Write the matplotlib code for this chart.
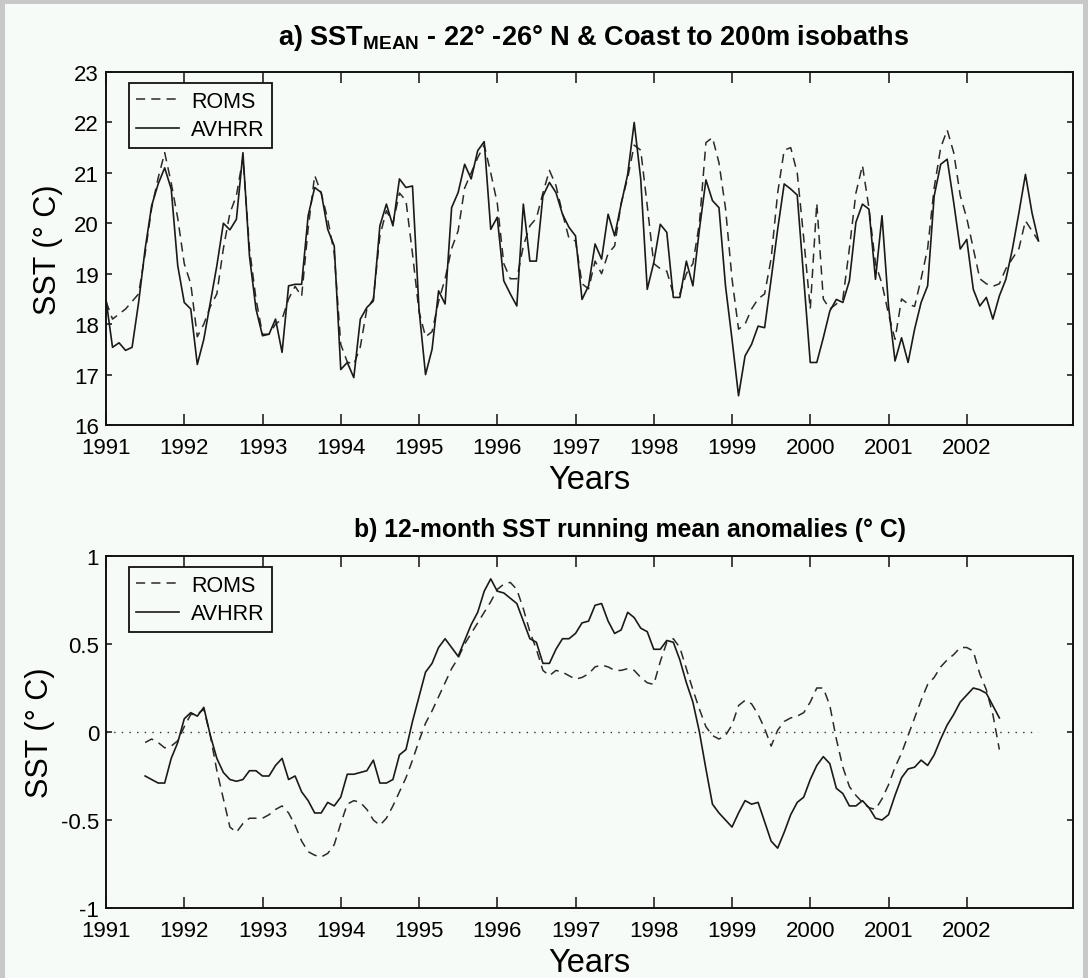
import numpy as np
import matplotlib
matplotlib.use('Agg')
import matplotlib.pyplot as plt
from matplotlib import font_manager as fm
from matplotlib.patches import Rectangle

# ---------------- data ----------------
t_start = 1991.0
year_ticks = list(range(1991, 2003))

sst_avhrr = [18.49, 17.54, 17.63, 17.48, 17.54, 18.43, 19.49, 20.35, 20.78, 21.10, 20.68, 19.16,
             18.43, 18.30, 17.20, 17.70, 18.43, 19.16, 20.00, 19.87, 20.08, 21.40, 19.35, 18.30,
             17.77, 17.80, 18.10, 17.44, 18.76, 18.79, 18.79, 20.15, 20.71, 20.61, 19.88, 19.55,
             17.10, 17.24, 16.94, 18.10, 18.33, 18.46, 19.95, 20.38, 19.95, 20.88, 20.71, 20.74,
             18.30, 17.00, 17.50, 18.66, 18.40, 20.31, 20.61, 21.17, 20.88, 21.44, 21.62, 19.88,
             20.12, 18.86, 18.60, 18.36, 20.38, 19.25, 19.25, 20.54, 20.81, 20.61, 20.18, 19.92,
             19.75, 18.49, 18.76, 19.59, 19.29, 20.18, 19.75, 20.38, 20.97, 22.00, 20.88, 18.69,
             19.22, 19.98, 19.82, 18.53, 18.53, 19.25, 18.76, 19.88, 20.86, 20.45, 20.31, 18.76,
             17.70, 16.58, 17.37, 17.60, 17.96, 17.93, 18.89, 19.88, 20.78, 20.68, 20.56, 18.90,
             17.24, 17.24, 17.73, 18.26, 18.49, 18.43, 18.86, 20.02, 20.38, 20.28, 18.89, 20.15,
             18.36, 17.27, 17.73, 17.24, 17.90, 18.43, 18.76, 20.54, 21.17, 21.27, 20.41, 19.49,
             19.68, 18.69, 18.36, 18.53, 18.10, 18.56, 18.89, 19.49, 20.21, 20.97, 20.21, 19.65]

sst_roms = [18.45, 18.10, 18.20, 18.30, 18.45, 18.60, 19.40, 20.30, 20.90, 21.40, 20.80, 20.10,
            19.20, 18.80, 17.75, 18.00, 18.35, 18.60, 19.50, 20.20, 20.55, 21.30, 19.50, 18.50,
            17.80, 17.80, 18.00, 18.10, 18.50, 18.75, 18.55, 19.90, 20.95, 20.60, 20.08, 19.40,
            17.60, 17.25, 17.20, 17.55, 18.30, 18.50, 19.75, 20.25, 20.00, 20.60, 20.45, 19.40,
            18.25, 17.75, 17.85, 18.45, 18.90, 19.50, 19.85, 20.70, 21.00, 21.30, 21.55, 21.00,
            20.40, 19.20, 18.90, 18.90, 19.55, 19.95, 20.10, 20.60, 21.05, 20.75, 20.20, 19.70,
            19.65, 18.80, 18.70, 19.25, 19.00, 19.40, 19.55, 20.40, 20.90, 21.55, 21.45, 20.35,
            19.20, 19.10, 19.05, 18.60, 18.60, 19.00, 19.20, 20.00, 21.60, 21.70, 21.20, 20.30,
            18.90, 17.90, 18.00, 18.30, 18.50, 18.60, 19.30, 20.60, 21.45, 21.50, 21.00, 19.70,
            18.30, 20.40, 18.50, 18.30, 18.40, 18.50, 19.50, 20.60, 21.15, 20.30, 19.20, 18.80,
            18.20, 17.70, 18.50, 18.40, 18.35, 18.90, 19.50, 20.70, 21.50, 21.85, 21.40, 20.55,
            20.10, 19.50, 18.90, 18.80, 18.75, 18.80, 19.10, 19.30, 19.50, 20.05, 19.85, 19.65]

anom_first_month = 6   # running mean starts at month index 6 (July 1991)
anom_avhrr = [-0.25, -0.27, -0.29, -0.29, -0.15, -0.06, 0.075, 0.11, 0.09, 0.14, -0.02, -0.15,
              -0.23, -0.27, -0.28, -0.27, -0.22, -0.22, -0.25, -0.25, -0.19, -0.15, -0.27, -0.25,
              -0.34, -0.39, -0.46, -0.46, -0.40, -0.42, -0.37, -0.24, -0.24, -0.23, -0.22, -0.16,
              -0.29, -0.29, -0.27, -0.13, -0.10, 0.06, 0.20, 0.34, 0.39, 0.48, 0.53, 0.48,
              0.43, 0.52, 0.61, 0.68, 0.80, 0.87, 0.80, 0.79, 0.76, 0.73, 0.63, 0.53,
              0.51, 0.39, 0.39, 0.47, 0.53, 0.53, 0.56, 0.62, 0.63, 0.72, 0.73, 0.63,
              0.56, 0.58, 0.68, 0.65, 0.59, 0.57, 0.47, 0.47, 0.52, 0.51, 0.41, 0.28,
              0.17, 0.00, -0.21, -0.41, -0.46, -0.50, -0.54, -0.46, -0.39, -0.41, -0.40, -0.51,
              -0.62, -0.66, -0.57, -0.47, -0.40, -0.37, -0.27, -0.19, -0.14, -0.18, -0.32, -0.35,
              -0.42, -0.42, -0.39, -0.43, -0.49, -0.50, -0.47, -0.36, -0.26, -0.21, -0.20, -0.16,
              -0.19, -0.13, -0.04, 0.04, 0.10, 0.17, 0.21, 0.25, 0.24, 0.22, 0.15, 0.08]

anom_roms = [-0.06, -0.04, -0.06, -0.09, -0.08, -0.05, 0.03, 0.10, 0.10, 0.13, -0.02, -0.22,
             -0.38, -0.54, -0.57, -0.52, -0.49, -0.49, -0.49, -0.47, -0.44, -0.42, -0.46, -0.53,
             -0.62, -0.68, -0.70, -0.71, -0.69, -0.64, -0.52, -0.41, -0.39, -0.40, -0.44, -0.50,
             -0.53, -0.49, -0.42, -0.34, -0.26, -0.16, -0.05, 0.05, 0.12, 0.20, 0.28, 0.36,
             0.42, 0.50, 0.56, 0.62, 0.68, 0.74, 0.81, 0.84, 0.85, 0.81, 0.70, 0.57,
             0.47, 0.35, 0.32, 0.35, 0.34, 0.32, 0.30, 0.31, 0.33, 0.37, 0.38, 0.37,
             0.35, 0.35, 0.36, 0.35, 0.31, 0.28, 0.27, 0.40, 0.51, 0.53, 0.48, 0.36,
             0.24, 0.13, 0.03, -0.02, -0.04, -0.02, 0.04, 0.15, 0.18, 0.16, 0.10, 0.02,
             -0.08, 0.01, 0.06, 0.08, 0.09, 0.11, 0.17, 0.25, 0.25, 0.15, -0.04, -0.20,
             -0.31, -0.36, -0.40, -0.43, -0.44, -0.38, -0.30, -0.20, -0.12, -0.02, 0.08, 0.18,
             0.27, 0.31, 0.37, 0.41, 0.44, 0.48, 0.48, 0.46, 0.33, 0.24, 0.10, -0.10]

title_a = r'a) SST$_{\mathrm{MEAN}}$ - 22° -26° N & Coast to 200m isobaths'
title_b = 'b) 12-month SST running mean anomalies (° C)'

# ---------------- style ----------------
names = {f.name for f in fm.fontManager.ttflist}
base = 'Liberation Sans' if 'Liberation Sans' in names else 'DejaVu Sans'
narrow = 'Liberation Sans Narrow' if 'Liberation Sans Narrow' in names else base
plt.rcParams['font.family'] = [base, 'DejaVu Sans']
plt.rcParams['axes.unicode_minus'] = False
plt.rcParams['mathtext.fontset'] = 'custom'
plt.rcParams['mathtext.rm'] = narrow + ':bold'
plt.rcParams['mathtext.it'] = narrow + ':bold'
plt.rcParams['mathtext.bf'] = narrow + ':bold'

BG = '#f7fbf7'
EDGE = '#c8c8c8'
INK = '#1a1a1a'

W, H = 1088, 979
fig = plt.figure(figsize=(W / 100, H / 100), dpi=100, facecolor=EDGE)
fig.patches.append(Rectangle((5 / W, 0), (W - 10) / W, (H - 5) / H, transform=fig.transFigure,
                             facecolor=BG, edgecolor='none', zorder=-10))

left_px, right_px = 106, 1073
def axes_rect(top_px, bot_px):
    return [left_px / W, 1 - bot_px / H, (right_px - left_px) / W, (bot_px - top_px) / H]

ax1 = fig.add_axes(axes_rect(73, 426))
ax2 = fig.add_axes(axes_rect(557, 909))

t = t_start + np.arange(len(sst_avhrr)) / 12.0
ta = t_start + (anom_first_month + np.arange(len(anom_avhrr))) / 12.0

dash = (0, (6, 4))
ax1.plot(t, sst_roms, color='#2a2a2a', lw=1.1, linestyle=dash, label='ROMS')
ax1.plot(t, sst_avhrr, color=INK, lw=1.2, label='AVHRR')

ax2.plot(t, np.zeros_like(t), color='#333333', lw=1.0, linestyle=(0, (1, 4.5)))
ax2.plot(ta, anom_roms, color='#2a2a2a', lw=1.1, linestyle=dash, label='ROMS')
ax2.plot(ta, anom_avhrr, color=INK, lw=1.2, label='AVHRR')

x_right = t_start + (right_px - 105.4) / 78.3

for ax in (ax1, ax2):
    ax.set_facecolor(BG)
    ax.set_xlim(t_start, x_right)
    ax.set_xticks(year_ticks)
    ax.set_xticklabels([str(y) for y in year_ticks])
    for s in ax.spines.values():
        s.set_linewidth(1.4)
        s.set_color('#111111')
    ax.tick_params(axis='both', direction='in', top=True, right=True, labelsize=16,
                   width=1.1, color='#111111')
    ax.tick_params(axis='x', length=8, pad=9)
    ax.tick_params(axis='y', length=4, pad=5)
    ax.set_xlabel('Years', fontsize=23.5, labelpad=4)
    leg = ax.legend(loc='upper left', bbox_to_anchor=(0.0235, 0.968), fontsize=15.5,
                    frameon=True, fancybox=False, handlelength=2.0, handletextpad=0.55,
                    borderpad=0.35, labelspacing=0.35, borderaxespad=0)
    leg.get_frame().set_edgecolor('#111111')
    leg.get_frame().set_linewidth(1.3)
    leg.get_frame().set_facecolor(BG)
    leg.get_frame().set_alpha(1)

ax1.set_ylim(16, 23)
ax1.set_yticks(range(16, 24))
ax1.set_ylabel('SST (° C)', fontsize=22, labelpad=8)

ax2.set_ylim(-1, 1)
ax2.set_yticks([-1, -0.5, 0, 0.5, 1])
ax2.set_yticklabels(['-1', '-0.5', '0', '0.5', '1'])
ax2.set_ylabel('SST (° C)', fontsize=22, labelpad=4)

fig.text(594 / W, 1 - 45 / H, title_a, ha='center', va='baseline',
         fontsize=19.5, fontweight='bold', family=[narrow, 'DejaVu Sans'])
fig.text(630 / W, 1 - 537 / H, title_b, ha='center', va='baseline',
         fontsize=17.8, fontweight='bold', family=[narrow, 'DejaVu Sans'])

fig.savefig('out.png', dpi=100, facecolor=EDGE)
